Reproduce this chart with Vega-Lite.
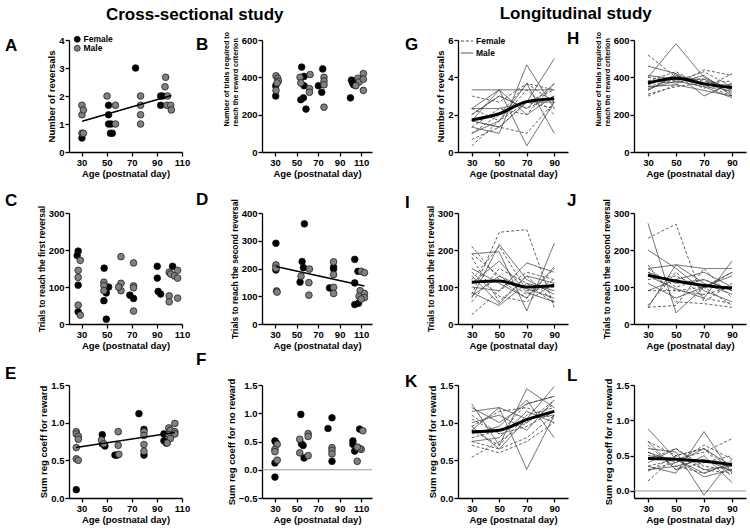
{
"$schema":"https://vega.github.io/schema/vega-lite/v6.json",
"padding":5,
"config":{"font":"Liberation Sans","view":{"stroke":null},
"axis":{"domainColor":"#000","domainWidth":1.3,"tickColor":"#000","tickWidth":1.3,"tickSize":4,"labelFontSize":9.5,"labelFontWeight":"bold","labelColor":"#000","labelPadding":1,"titleFontSize":9.5,"titleFontWeight":"bold","titleColor":"#000","titlePadding":2,"grid":false,"labelOverlap":false,"labelFlush":false},
"title":{"fontSize":17,"fontWeight":"bold","color":"#000","anchor":"start","frame":"group","offset":0,"baseline":"alphabetic"}},
"datasets":{
"cs":[
{"p":"A","s":"F","age":30.3,"v":0.5},{"p":"A","s":"F","age":51.5,"v":1.67},{"p":"A","s":"F","age":51.5,"v":1.33},{"p":"A","s":"F","age":51.5,"v":1.0},{"p":"A","s":"F","age":53.5,"v":1.0},{"p":"A","s":"F","age":53,"v":0.67},{"p":"A","s":"F","age":54.5,"v":0.67},{"p":"A","s":"F","age":73,"v":3.0},{"p":"A","s":"F","age":93,"v":2.0},{"p":"A","s":"F","age":94.5,"v":2.0},{"p":"A","s":"F","age":93,"v":1.67},
{"p":"A","s":"M","age":30.3,"v":1.67},{"p":"A","s":"M","age":30.3,"v":1.33},{"p":"A","s":"M","age":31.5,"v":1.5},{"p":"A","s":"M","age":30.3,"v":0.67},{"p":"A","s":"M","age":31.5,"v":0.67},{"p":"A","s":"M","age":50.3,"v":2.0},{"p":"A","s":"M","age":57,"v":1.67},{"p":"A","s":"M","age":57,"v":1.0},{"p":"A","s":"M","age":77,"v":2.0},{"p":"A","s":"M","age":77,"v":1.67},{"p":"A","s":"M","age":77,"v":1.33},{"p":"A","s":"M","age":77,"v":1.0},{"p":"A","s":"M","age":97,"v":2.67},{"p":"A","s":"M","age":96.5,"v":2.33},{"p":"A","s":"M","age":98.5,"v":2.0},{"p":"A","s":"M","age":98,"v":1.67},{"p":"A","s":"M","age":101,"v":1.67},{"p":"A","s":"M","age":101.5,"v":1.5},
{"p":"B","s":"F","age":30.7,"v":355},{"p":"B","s":"F","age":30.7,"v":300},{"p":"B","s":"F","age":54.8,"v":455},{"p":"B","s":"F","age":57,"v":405},{"p":"B","s":"F","age":57,"v":355},{"p":"B","s":"F","age":54,"v":280},{"p":"B","s":"F","age":56.4,"v":290},{"p":"B","s":"F","age":58.8,"v":230},{"p":"B","s":"F","age":74.3,"v":445},{"p":"B","s":"F","age":70.3,"v":355},{"p":"B","s":"F","age":73.4,"v":320},{"p":"B","s":"F","age":101,"v":385},{"p":"B","s":"F","age":102,"v":370},{"p":"B","s":"F","age":104,"v":380},{"p":"B","s":"F","age":103,"v":360},{"p":"B","s":"F","age":100,"v":290},
{"p":"B","s":"M","age":31,"v":408},{"p":"B","s":"M","age":32.6,"v":395},{"p":"B","s":"M","age":33.1,"v":380},{"p":"B","s":"M","age":32,"v":370},{"p":"B","s":"M","age":31,"v":330},{"p":"B","s":"M","age":53.3,"v":400},{"p":"B","s":"M","age":54,"v":370},{"p":"B","s":"M","age":62.6,"v":415},{"p":"B","s":"M","age":62,"v":340},{"p":"B","s":"M","age":62,"v":320},{"p":"B","s":"M","age":75.5,"v":400},{"p":"B","s":"M","age":75.5,"v":380},{"p":"B","s":"M","age":75.5,"v":360},{"p":"B","s":"M","age":75.5,"v":240},{"p":"B","s":"M","age":107,"v":395},{"p":"B","s":"M","age":108,"v":375},{"p":"B","s":"M","age":105,"v":355},{"p":"B","s":"M","age":112,"v":420},{"p":"B","s":"M","age":112,"v":390},{"p":"B","s":"M","age":112,"v":330},
{"p":"C","s":"F","age":27.3,"v":197},{"p":"C","s":"F","age":26.5,"v":185},{"p":"C","s":"F","age":27.3,"v":105},{"p":"C","s":"F","age":27.3,"v":33},{"p":"C","s":"F","age":48,"v":151},{"p":"C","s":"F","age":51.6,"v":100},{"p":"C","s":"F","age":49.7,"v":84},{"p":"C","s":"F","age":47.8,"v":63},{"p":"C","s":"F","age":49.7,"v":13},{"p":"C","s":"F","age":68.5,"v":78},{"p":"C","s":"F","age":71.4,"v":69},{"p":"C","s":"F","age":90.3,"v":156},{"p":"C","s":"F","age":102.5,"v":156},{"p":"C","s":"F","age":90.3,"v":124},{"p":"C","s":"F","age":91,"v":88},{"p":"C","s":"F","age":93,"v":81},
{"p":"C","s":"M","age":29,"v":172},{"p":"C","s":"M","age":27.3,"v":145},{"p":"C","s":"M","age":27.3,"v":126},{"p":"C","s":"M","age":27.3,"v":51},{"p":"C","s":"M","age":29,"v":24},{"p":"C","s":"M","age":47.8,"v":113},{"p":"C","s":"M","age":47.8,"v":104},{"p":"C","s":"M","age":47.8,"v":90},{"p":"C","s":"M","age":61.4,"v":182},{"p":"C","s":"M","age":61.4,"v":110},{"p":"C","s":"M","age":61.4,"v":90},{"p":"C","s":"M","age":59.5,"v":100},{"p":"C","s":"M","age":71.4,"v":165},{"p":"C","s":"M","age":71.4,"v":103},{"p":"C","s":"M","age":71.4,"v":98},{"p":"C","s":"M","age":71.4,"v":35},{"p":"C","s":"M","age":99.8,"v":140},{"p":"C","s":"M","age":101,"v":135},{"p":"C","s":"M","age":106.5,"v":145},{"p":"C","s":"M","age":104,"v":130},{"p":"C","s":"M","age":106.5,"v":124},{"p":"C","s":"M","age":99.8,"v":76},{"p":"C","s":"M","age":99.8,"v":60},{"p":"C","s":"M","age":106.5,"v":70},
{"p":"D","s":"F","age":30.9,"v":291},{"p":"D","s":"F","age":30.9,"v":195},{"p":"D","s":"F","age":57.3,"v":361},{"p":"D","s":"F","age":55.2,"v":225},{"p":"D","s":"F","age":56.4,"v":203},{"p":"D","s":"F","age":53.3,"v":151},{"p":"D","s":"F","age":80.6,"v":130},{"p":"D","s":"F","age":84.4,"v":205},{"p":"D","s":"F","age":84.4,"v":198},{"p":"D","s":"F","age":104,"v":233},{"p":"D","s":"F","age":107,"v":190},{"p":"D","s":"F","age":104,"v":148},{"p":"D","s":"F","age":107.5,"v":75},{"p":"D","s":"F","age":104,"v":70},
{"p":"D","s":"M","age":30.9,"v":213},{"p":"D","s":"M","age":30.9,"v":201},{"p":"D","s":"M","age":31.5,"v":119},{"p":"D","s":"M","age":32,"v":115},{"p":"D","s":"M","age":54.2,"v":172},{"p":"D","s":"M","age":62,"v":198},{"p":"D","s":"M","age":61.5,"v":149},{"p":"D","s":"M","age":61.5,"v":104},{"p":"D","s":"M","age":84.4,"v":224},{"p":"D","s":"M","age":84.4,"v":178},{"p":"D","s":"M","age":84.4,"v":132},{"p":"D","s":"M","age":84.4,"v":110},{"p":"D","s":"M","age":110,"v":190},{"p":"D","s":"M","age":113,"v":185},{"p":"D","s":"M","age":109,"v":120},{"p":"D","s":"M","age":113,"v":110},{"p":"D","s":"M","age":108,"v":100},{"p":"D","s":"M","age":113,"v":95},{"p":"D","s":"M","age":110,"v":90},
{"p":"E","s":"F","age":25.8,"v":0.11},{"p":"E","s":"F","age":46.5,"v":0.84},{"p":"E","s":"F","age":46.5,"v":0.72},{"p":"E","s":"F","age":48.6,"v":0.69},{"p":"E","s":"F","age":56.6,"v":0.57},{"p":"E","s":"F","age":58.4,"v":0.57},{"p":"E","s":"F","age":75.7,"v":1.12},{"p":"E","s":"F","age":79.7,"v":0.91},{"p":"E","s":"F","age":79.7,"v":0.57},{"p":"E","s":"F","age":95.6,"v":0.85},{"p":"E","s":"F","age":95.6,"v":0.76},{"p":"E","s":"F","age":97.4,"v":0.73},
{"p":"E","s":"M","age":25.8,"v":0.88},{"p":"E","s":"M","age":25.8,"v":0.85},{"p":"E","s":"M","age":27.4,"v":0.82},{"p":"E","s":"M","age":27.4,"v":0.78},{"p":"E","s":"M","age":25.8,"v":0.67},{"p":"E","s":"M","age":25.8,"v":0.52},{"p":"E","s":"M","age":27.4,"v":0.5},{"p":"E","s":"M","age":45.9,"v":0.77},{"p":"E","s":"M","age":47.8,"v":0.72},{"p":"E","s":"M","age":59.2,"v":0.88},{"p":"E","s":"M","age":59.2,"v":0.7},{"p":"E","s":"M","age":59.7,"v":0.58},{"p":"E","s":"M","age":79.7,"v":0.88},{"p":"E","s":"M","age":79.7,"v":0.83},{"p":"E","s":"M","age":79.7,"v":0.71},{"p":"E","s":"M","age":79.7,"v":0.62},{"p":"E","s":"M","age":99.5,"v":0.93},{"p":"E","s":"M","age":100.8,"v":0.9},{"p":"E","s":"M","age":99.5,"v":0.84},{"p":"E","s":"M","age":104.3,"v":0.99},{"p":"E","s":"M","age":104.3,"v":0.88},{"p":"E","s":"M","age":104.3,"v":0.85},{"p":"E","s":"M","age":100.8,"v":0.79},{"p":"E","s":"M","age":98.2,"v":0.73},
{"p":"F","s":"F","age":30,"v":0.51},{"p":"F","s":"F","age":31,"v":0.48},{"p":"F","s":"F","age":30,"v":0.12},{"p":"F","s":"F","age":30,"v":-0.13},{"p":"F","s":"F","age":54,"v":0.98},{"p":"F","s":"F","age":54.6,"v":0.46},{"p":"F","s":"F","age":56.1,"v":0.43},{"p":"F","s":"F","age":57,"v":0.21},{"p":"F","s":"F","age":79.2,"v":0.73},{"p":"F","s":"F","age":82.9,"v":0.92},{"p":"F","s":"F","age":82.9,"v":0.15},{"p":"F","s":"F","age":102.3,"v":0.51},{"p":"F","s":"F","age":102.3,"v":0.45},{"p":"F","s":"F","age":103.9,"v":0.33},{"p":"F","s":"F","age":108.5,"v":0.72},
{"p":"F","s":"M","age":32.1,"v":0.45},{"p":"F","s":"M","age":30,"v":0.36},{"p":"F","s":"M","age":30,"v":0.32},{"p":"F","s":"M","age":32.1,"v":0.17},{"p":"F","s":"M","age":53,"v":0.54},{"p":"F","s":"M","age":53,"v":0.3},{"p":"F","s":"M","age":60.8,"v":0.64},{"p":"F","s":"M","age":60.8,"v":0.59},{"p":"F","s":"M","age":60.8,"v":0.25},{"p":"F","s":"M","age":82.9,"v":0.39},{"p":"F","s":"M","age":82.9,"v":0.34},{"p":"F","s":"M","age":82.9,"v":0.28},{"p":"F","s":"M","age":111.5,"v":0.69},{"p":"F","s":"M","age":110,"v":0.36},{"p":"F","s":"M","age":106.3,"v":0.15},{"p":"F","s":"M","age":108.5,"v":0.38},{"p":"F","s":"M","age":106.3,"v":0.4}
],
"fit":[
{"p":"A","age":30.5,"v":1.1},{"p":"A","age":101.5,"v":2.02},
{"p":"D","age":30.9,"v":207},{"p":"D","age":113,"v":137},
{"p":"E","age":25.5,"v":0.67},{"p":"E","age":104.3,"v":0.87}
],
"lm":[
{"p":"G","age":30,"v":1.72},{"p":"G","age":50,"v":2.05},{"p":"G","age":70,"v":2.7},{"p":"G","age":90,"v":2.85},
{"p":"H","age":30,"v":370},{"p":"H","age":50,"v":395},{"p":"H","age":70,"v":365},{"p":"H","age":90,"v":345},
{"p":"I","age":30,"v":113},{"p":"I","age":50,"v":116},{"p":"I","age":70,"v":100},{"p":"I","age":90,"v":104},
{"p":"J","age":30,"v":132},{"p":"J","age":50,"v":116},{"p":"J","age":70,"v":104},{"p":"J","age":90,"v":97},
{"p":"K","age":30,"v":0.88},{"p":"K","age":50,"v":0.9},{"p":"K","age":70,"v":1.04},{"p":"K","age":90,"v":1.15},
{"p":"L","age":30,"v":0.46},{"p":"L","age":50,"v":0.45},{"p":"L","age":70,"v":0.42},{"p":"L","age":90,"v":0.37}
],
"lg":[
{"p":"G","id":"f1","s":"F","age":30,"v":0.33},{"p":"G","id":"f1","s":"F","age":50,"v":1.67},{"p":"G","id":"f1","s":"F","age":70,"v":2.67},{"p":"G","id":"f1","s":"F","age":90,"v":3.33},
{"p":"G","id":"f2","s":"F","age":30,"v":3.0},{"p":"G","id":"f2","s":"F","age":50,"v":2.67},{"p":"G","id":"f2","s":"F","age":70,"v":3.67},{"p":"G","id":"f2","s":"F","age":90,"v":3.33},
{"p":"G","id":"f3","s":"F","age":30,"v":1.0},{"p":"G","id":"f3","s":"F","age":50,"v":2.0},{"p":"G","id":"f3","s":"F","age":70,"v":3.67},{"p":"G","id":"f3","s":"F","age":90,"v":2.67},
{"p":"G","id":"f4","s":"F","age":30,"v":2.33},{"p":"G","id":"f4","s":"F","age":50,"v":1.67},{"p":"G","id":"f4","s":"F","age":70,"v":3.33},{"p":"G","id":"f4","s":"F","age":90,"v":2.0},
{"p":"G","id":"f5","s":"F","age":30,"v":1.33},{"p":"G","id":"f5","s":"F","age":50,"v":2.33},{"p":"G","id":"f5","s":"F","age":70,"v":2.0},{"p":"G","id":"f5","s":"F","age":90,"v":3.67},
{"p":"G","id":"f6","s":"F","age":30,"v":0.67},{"p":"G","id":"f6","s":"F","age":50,"v":1.33},{"p":"G","id":"f6","s":"F","age":70,"v":2.67},{"p":"G","id":"f6","s":"F","age":90,"v":2.33},
{"p":"G","id":"f7","s":"F","age":30,"v":2.0},{"p":"G","id":"f7","s":"F","age":50,"v":3.0},{"p":"G","id":"f7","s":"F","age":70,"v":2.33},{"p":"G","id":"f7","s":"F","age":90,"v":3.0},
{"p":"G","id":"f8","s":"F","age":30,"v":1.67},{"p":"G","id":"f8","s":"F","age":50,"v":1.33},{"p":"G","id":"f8","s":"F","age":70,"v":1.0},{"p":"G","id":"f8","s":"F","age":90,"v":2.67},
{"p":"G","id":"m1","s":"M","age":30,"v":3.33},{"p":"G","id":"m1","s":"M","age":50,"v":3.33},{"p":"G","id":"m1","s":"M","age":70,"v":3.33},{"p":"G","id":"m1","s":"M","age":90,"v":3.33},
{"p":"G","id":"m2","s":"M","age":30,"v":1.33},{"p":"G","id":"m2","s":"M","age":50,"v":1.0},{"p":"G","id":"m2","s":"M","age":70,"v":4.67},{"p":"G","id":"m2","s":"M","age":90,"v":2.33},
{"p":"G","id":"m3","s":"M","age":30,"v":1.67},{"p":"G","id":"m3","s":"M","age":50,"v":3.33},{"p":"G","id":"m3","s":"M","age":70,"v":0.33},{"p":"G","id":"m3","s":"M","age":90,"v":2.67},
{"p":"G","id":"m4","s":"M","age":30,"v":2.33},{"p":"G","id":"m4","s":"M","age":50,"v":2.33},{"p":"G","id":"m4","s":"M","age":70,"v":2.67},{"p":"G","id":"m4","s":"M","age":90,"v":5.0},
{"p":"G","id":"m5","s":"M","age":30,"v":1.0},{"p":"G","id":"m5","s":"M","age":50,"v":1.67},{"p":"G","id":"m5","s":"M","age":70,"v":3.67},{"p":"G","id":"m5","s":"M","age":90,"v":1.0},
{"p":"G","id":"m6","s":"M","age":30,"v":2.0},{"p":"G","id":"m6","s":"M","age":50,"v":3.0},{"p":"G","id":"m6","s":"M","age":70,"v":2.33},{"p":"G","id":"m6","s":"M","age":90,"v":3.67},
{"p":"G","id":"m7","s":"M","age":30,"v":1.67},{"p":"G","id":"m7","s":"M","age":50,"v":1.33},{"p":"G","id":"m7","s":"M","age":70,"v":2.67},{"p":"G","id":"m7","s":"M","age":90,"v":2.67},
{"p":"G","id":"m8","s":"M","age":30,"v":2.33},{"p":"G","id":"m8","s":"M","age":50,"v":3.33},{"p":"G","id":"m8","s":"M","age":70,"v":2.0},{"p":"G","id":"m8","s":"M","age":90,"v":3.0},
{"p":"H","id":"f1","s":"F","age":30,"v":520},{"p":"H","id":"f1","s":"F","age":50,"v":400},{"p":"H","id":"f1","s":"F","age":70,"v":380},{"p":"H","id":"f1","s":"F","age":90,"v":340},
{"p":"H","id":"f2","s":"F","age":30,"v":300},{"p":"H","id":"f2","s":"F","age":50,"v":360},{"p":"H","id":"f2","s":"F","age":70,"v":440},{"p":"H","id":"f2","s":"F","age":90,"v":410},
{"p":"H","id":"f3","s":"F","age":30,"v":330},{"p":"H","id":"f3","s":"F","age":50,"v":420},{"p":"H","id":"f3","s":"F","age":70,"v":360},{"p":"H","id":"f3","s":"F","age":90,"v":300},
{"p":"H","id":"f4","s":"F","age":30,"v":400},{"p":"H","id":"f4","s":"F","age":50,"v":380},{"p":"H","id":"f4","s":"F","age":70,"v":430},{"p":"H","id":"f4","s":"F","age":90,"v":350},
{"p":"H","id":"f5","s":"F","age":30,"v":360},{"p":"H","id":"f5","s":"F","age":50,"v":410},{"p":"H","id":"f5","s":"F","age":70,"v":340},{"p":"H","id":"f5","s":"F","age":90,"v":420},
{"p":"H","id":"f6","s":"F","age":30,"v":350},{"p":"H","id":"f6","s":"F","age":50,"v":390},{"p":"H","id":"f6","s":"F","age":70,"v":390},{"p":"H","id":"f6","s":"F","age":90,"v":310},
{"p":"H","id":"f7","s":"F","age":30,"v":310},{"p":"H","id":"f7","s":"F","age":50,"v":350},{"p":"H","id":"f7","s":"F","age":70,"v":370},{"p":"H","id":"f7","s":"F","age":90,"v":380},
{"p":"H","id":"f8","s":"F","age":30,"v":380},{"p":"H","id":"f8","s":"F","age":50,"v":430},{"p":"H","id":"f8","s":"F","age":70,"v":350},{"p":"H","id":"f8","s":"F","age":90,"v":330},
{"p":"H","id":"m1","s":"M","age":30,"v":400},{"p":"H","id":"m1","s":"M","age":50,"v":580},{"p":"H","id":"m1","s":"M","age":70,"v":400},{"p":"H","id":"m1","s":"M","age":90,"v":330},
{"p":"H","id":"m2","s":"M","age":30,"v":460},{"p":"H","id":"m2","s":"M","age":50,"v":420},{"p":"H","id":"m2","s":"M","age":70,"v":300},{"p":"H","id":"m2","s":"M","age":90,"v":370},
{"p":"H","id":"m3","s":"M","age":30,"v":340},{"p":"H","id":"m3","s":"M","age":50,"v":380},{"p":"H","id":"m3","s":"M","age":70,"v":350},{"p":"H","id":"m3","s":"M","age":90,"v":290},
{"p":"H","id":"m4","s":"M","age":30,"v":370},{"p":"H","id":"m4","s":"M","age":50,"v":400},{"p":"H","id":"m4","s":"M","age":70,"v":360},{"p":"H","id":"m4","s":"M","age":90,"v":360},
{"p":"H","id":"m5","s":"M","age":30,"v":350},{"p":"H","id":"m5","s":"M","age":50,"v":360},{"p":"H","id":"m5","s":"M","age":70,"v":330},{"p":"H","id":"m5","s":"M","age":90,"v":300},
{"p":"H","id":"m6","s":"M","age":30,"v":410},{"p":"H","id":"m6","s":"M","age":50,"v":390},{"p":"H","id":"m6","s":"M","age":70,"v":390},{"p":"H","id":"m6","s":"M","age":90,"v":340},
{"p":"H","id":"m7","s":"M","age":30,"v":330},{"p":"H","id":"m7","s":"M","age":50,"v":410},{"p":"H","id":"m7","s":"M","age":70,"v":370},{"p":"H","id":"m7","s":"M","age":90,"v":320},
{"p":"H","id":"m8","s":"M","age":30,"v":380},{"p":"H","id":"m8","s":"M","age":50,"v":370},{"p":"H","id":"m8","s":"M","age":70,"v":410},{"p":"H","id":"m8","s":"M","age":90,"v":300},
{"p":"I","id":"f1","s":"F","age":30,"v":25},{"p":"I","id":"f1","s":"F","age":50,"v":90},{"p":"I","id":"f1","s":"F","age":70,"v":140},{"p":"I","id":"f1","s":"F","age":90,"v":120},
{"p":"I","id":"f2","s":"F","age":30,"v":210},{"p":"I","id":"f2","s":"F","age":50,"v":120},{"p":"I","id":"f2","s":"F","age":70,"v":70},{"p":"I","id":"f2","s":"F","age":90,"v":150},
{"p":"I","id":"f3","s":"F","age":30,"v":80},{"p":"I","id":"f3","s":"F","age":50,"v":248},{"p":"I","id":"f3","s":"F","age":70,"v":255},{"p":"I","id":"f3","s":"F","age":90,"v":45},
{"p":"I","id":"f4","s":"F","age":30,"v":180},{"p":"I","id":"f4","s":"F","age":50,"v":60},{"p":"I","id":"f4","s":"F","age":70,"v":130},{"p":"I","id":"f4","s":"F","age":90,"v":60},
{"p":"I","id":"f5","s":"F","age":30,"v":120},{"p":"I","id":"f5","s":"F","age":50,"v":210},{"p":"I","id":"f5","s":"F","age":70,"v":90},{"p":"I","id":"f5","s":"F","age":90,"v":100},
{"p":"I","id":"f6","s":"F","age":30,"v":60},{"p":"I","id":"f6","s":"F","age":50,"v":150},{"p":"I","id":"f6","s":"F","age":70,"v":110},{"p":"I","id":"f6","s":"F","age":90,"v":55},
{"p":"I","id":"f7","s":"F","age":30,"v":140},{"p":"I","id":"f7","s":"F","age":50,"v":75},{"p":"I","id":"f7","s":"F","age":70,"v":60},{"p":"I","id":"f7","s":"F","age":90,"v":110},
{"p":"I","id":"f8","s":"F","age":30,"v":190},{"p":"I","id":"f8","s":"F","age":50,"v":130},{"p":"I","id":"f8","s":"F","age":70,"v":80},{"p":"I","id":"f8","s":"F","age":90,"v":120},
{"p":"I","id":"m1","s":"M","age":30,"v":190},{"p":"I","id":"m1","s":"M","age":50,"v":195},{"p":"I","id":"m1","s":"M","age":70,"v":35},{"p":"I","id":"m1","s":"M","age":90,"v":218},
{"p":"I","id":"m2","s":"M","age":30,"v":70},{"p":"I","id":"m2","s":"M","age":50,"v":215},{"p":"I","id":"m2","s":"M","age":70,"v":120},{"p":"I","id":"m2","s":"M","age":90,"v":80},
{"p":"I","id":"m3","s":"M","age":30,"v":100},{"p":"I","id":"m3","s":"M","age":50,"v":90},{"p":"I","id":"m3","s":"M","age":70,"v":165},{"p":"I","id":"m3","s":"M","age":90,"v":140},
{"p":"I","id":"m4","s":"M","age":30,"v":85},{"p":"I","id":"m4","s":"M","age":50,"v":50},{"p":"I","id":"m4","s":"M","age":70,"v":110},{"p":"I","id":"m4","s":"M","age":90,"v":90},
{"p":"I","id":"m5","s":"M","age":30,"v":150},{"p":"I","id":"m5","s":"M","age":50,"v":110},{"p":"I","id":"m5","s":"M","age":70,"v":70},{"p":"I","id":"m5","s":"M","age":90,"v":155},
{"p":"I","id":"m6","s":"M","age":30,"v":75},{"p":"I","id":"m6","s":"M","age":50,"v":130},{"p":"I","id":"m6","s":"M","age":70,"v":95},{"p":"I","id":"m6","s":"M","age":90,"v":70},
{"p":"I","id":"m7","s":"M","age":30,"v":130},{"p":"I","id":"m7","s":"M","age":50,"v":55},{"p":"I","id":"m7","s":"M","age":70,"v":130},{"p":"I","id":"m7","s":"M","age":90,"v":110},
{"p":"I","id":"m8","s":"M","age":30,"v":110},{"p":"I","id":"m8","s":"M","age":50,"v":170},{"p":"I","id":"m8","s":"M","age":70,"v":85},{"p":"I","id":"m8","s":"M","age":90,"v":60},
{"p":"J","id":"f1","s":"F","age":30,"v":232},{"p":"J","id":"f1","s":"F","age":50,"v":270},{"p":"J","id":"f1","s":"F","age":70,"v":60},{"p":"J","id":"f1","s":"F","age":90,"v":110},
{"p":"J","id":"f2","s":"F","age":30,"v":90},{"p":"J","id":"f2","s":"F","age":50,"v":90},{"p":"J","id":"f2","s":"F","age":70,"v":100},{"p":"J","id":"f2","s":"F","age":90,"v":50},
{"p":"J","id":"f3","s":"F","age":30,"v":50},{"p":"J","id":"f3","s":"F","age":50,"v":140},{"p":"J","id":"f3","s":"F","age":70,"v":70},{"p":"J","id":"f3","s":"F","age":90,"v":55},
{"p":"J","id":"f4","s":"F","age":30,"v":150},{"p":"J","id":"f4","s":"F","age":50,"v":100},{"p":"J","id":"f4","s":"F","age":70,"v":120},{"p":"J","id":"f4","s":"F","age":90,"v":90},
{"p":"J","id":"f5","s":"F","age":30,"v":160},{"p":"J","id":"f5","s":"F","age":50,"v":60},{"p":"J","id":"f5","s":"F","age":70,"v":55},{"p":"J","id":"f5","s":"F","age":90,"v":45},
{"p":"J","id":"f6","s":"F","age":30,"v":120},{"p":"J","id":"f6","s":"F","age":50,"v":130},{"p":"J","id":"f6","s":"F","age":70,"v":95},{"p":"J","id":"f6","s":"F","age":90,"v":140},
{"p":"J","id":"f7","s":"F","age":30,"v":45},{"p":"J","id":"f7","s":"F","age":50,"v":50},{"p":"J","id":"f7","s":"F","age":70,"v":150},{"p":"J","id":"f7","s":"F","age":90,"v":70},
{"p":"J","id":"f8","s":"F","age":30,"v":140},{"p":"J","id":"f8","s":"F","age":50,"v":90},{"p":"J","id":"f8","s":"F","age":70,"v":80},{"p":"J","id":"f8","s":"F","age":90,"v":100},
{"p":"J","id":"m1","s":"M","age":30,"v":272},{"p":"J","id":"m1","s":"M","age":50,"v":30},{"p":"J","id":"m1","s":"M","age":70,"v":100},{"p":"J","id":"m1","s":"M","age":90,"v":130},
{"p":"J","id":"m2","s":"M","age":30,"v":200},{"p":"J","id":"m2","s":"M","age":50,"v":150},{"p":"J","id":"m2","s":"M","age":70,"v":90},{"p":"J","id":"m2","s":"M","age":90,"v":60},
{"p":"J","id":"m3","s":"M","age":30,"v":150},{"p":"J","id":"m3","s":"M","age":50,"v":160},{"p":"J","id":"m3","s":"M","age":70,"v":150},{"p":"J","id":"m3","s":"M","age":90,"v":150},
{"p":"J","id":"m4","s":"M","age":30,"v":90},{"p":"J","id":"m4","s":"M","age":50,"v":120},{"p":"J","id":"m4","s":"M","age":70,"v":140},{"p":"J","id":"m4","s":"M","age":90,"v":100},
{"p":"J","id":"m5","s":"M","age":30,"v":130},{"p":"J","id":"m5","s":"M","age":50,"v":95},{"p":"J","id":"m5","s":"M","age":70,"v":70},{"p":"J","id":"m5","s":"M","age":90,"v":170},
{"p":"J","id":"m6","s":"M","age":30,"v":45},{"p":"J","id":"m6","s":"M","age":50,"v":160},{"p":"J","id":"m6","s":"M","age":70,"v":110},{"p":"J","id":"m6","s":"M","age":90,"v":80},
{"p":"J","id":"m7","s":"M","age":30,"v":140},{"p":"J","id":"m7","s":"M","age":50,"v":110},{"p":"J","id":"m7","s":"M","age":70,"v":120},{"p":"J","id":"m7","s":"M","age":90,"v":90},
{"p":"J","id":"m8","s":"M","age":30,"v":110},{"p":"J","id":"m8","s":"M","age":50,"v":70},{"p":"J","id":"m8","s":"M","age":70,"v":100},{"p":"J","id":"m8","s":"M","age":90,"v":140},
{"p":"K","id":"f1","s":"F","age":30,"v":0.54},{"p":"K","id":"f1","s":"F","age":50,"v":0.75},{"p":"K","id":"f1","s":"F","age":70,"v":1.0},{"p":"K","id":"f1","s":"F","age":90,"v":1.3},
{"p":"K","id":"f2","s":"F","age":30,"v":0.7},{"p":"K","id":"f2","s":"F","age":50,"v":0.6},{"p":"K","id":"f2","s":"F","age":70,"v":0.75},{"p":"K","id":"f2","s":"F","age":90,"v":1.0},
{"p":"K","id":"f3","s":"F","age":30,"v":0.9},{"p":"K","id":"f3","s":"F","age":50,"v":0.7},{"p":"K","id":"f3","s":"F","age":70,"v":1.1},{"p":"K","id":"f3","s":"F","age":90,"v":1.2},
{"p":"K","id":"f4","s":"F","age":30,"v":1.05},{"p":"K","id":"f4","s":"F","age":50,"v":0.85},{"p":"K","id":"f4","s":"F","age":70,"v":1.25},{"p":"K","id":"f4","s":"F","age":90,"v":1.35},
{"p":"K","id":"f5","s":"F","age":30,"v":0.75},{"p":"K","id":"f5","s":"F","age":50,"v":0.65},{"p":"K","id":"f5","s":"F","age":70,"v":0.8},{"p":"K","id":"f5","s":"F","age":90,"v":1.1},
{"p":"K","id":"f6","s":"F","age":30,"v":0.95},{"p":"K","id":"f6","s":"F","age":50,"v":1.15},{"p":"K","id":"f6","s":"F","age":70,"v":1.2},{"p":"K","id":"f6","s":"F","age":90,"v":1.05},
{"p":"K","id":"f7","s":"F","age":30,"v":0.8},{"p":"K","id":"f7","s":"F","age":50,"v":0.9},{"p":"K","id":"f7","s":"F","age":70,"v":1.0},{"p":"K","id":"f7","s":"F","age":90,"v":1.25},
{"p":"K","id":"f8","s":"F","age":30,"v":1.1},{"p":"K","id":"f8","s":"F","age":50,"v":0.85},{"p":"K","id":"f8","s":"F","age":70,"v":0.95},{"p":"K","id":"f8","s":"F","age":90,"v":1.15},
{"p":"K","id":"m1","s":"M","age":30,"v":1.25},{"p":"K","id":"m1","s":"M","age":50,"v":0.7},{"p":"K","id":"m1","s":"M","age":70,"v":1.45},{"p":"K","id":"m1","s":"M","age":90,"v":1.2},
{"p":"K","id":"m2","s":"M","age":30,"v":0.9},{"p":"K","id":"m2","s":"M","age":50,"v":1.2},{"p":"K","id":"m2","s":"M","age":70,"v":0.38},{"p":"K","id":"m2","s":"M","age":90,"v":1.1},
{"p":"K","id":"m3","s":"M","age":30,"v":1.15},{"p":"K","id":"m3","s":"M","age":50,"v":1.2},{"p":"K","id":"m3","s":"M","age":70,"v":1.05},{"p":"K","id":"m3","s":"M","age":90,"v":1.48},
{"p":"K","id":"m4","s":"M","age":30,"v":0.85},{"p":"K","id":"m4","s":"M","age":50,"v":0.95},{"p":"K","id":"m4","s":"M","age":70,"v":1.3},{"p":"K","id":"m4","s":"M","age":90,"v":0.8},
{"p":"K","id":"m5","s":"M","age":30,"v":1.0},{"p":"K","id":"m5","s":"M","age":50,"v":1.1},{"p":"K","id":"m5","s":"M","age":70,"v":0.9},{"p":"K","id":"m5","s":"M","age":90,"v":1.3},
{"p":"K","id":"m6","s":"M","age":30,"v":0.75},{"p":"K","id":"m6","s":"M","age":50,"v":0.8},{"p":"K","id":"m6","s":"M","age":70,"v":1.15},{"p":"K","id":"m6","s":"M","age":90,"v":1.0},
{"p":"K","id":"m7","s":"M","age":30,"v":1.2},{"p":"K","id":"m7","s":"M","age":50,"v":1.0},{"p":"K","id":"m7","s":"M","age":70,"v":1.25},{"p":"K","id":"m7","s":"M","age":90,"v":1.35},
{"p":"K","id":"m8","s":"M","age":30,"v":0.95},{"p":"K","id":"m8","s":"M","age":50,"v":0.65},{"p":"K","id":"m8","s":"M","age":70,"v":1.05},{"p":"K","id":"m8","s":"M","age":90,"v":1.1},
{"p":"L","id":"f1","s":"F","age":30,"v":0.14},{"p":"L","id":"f1","s":"F","age":50,"v":0.5},{"p":"L","id":"f1","s":"F","age":70,"v":0.6},{"p":"L","id":"f1","s":"F","age":90,"v":0.3},
{"p":"L","id":"f2","s":"F","age":30,"v":0.35},{"p":"L","id":"f2","s":"F","age":50,"v":0.45},{"p":"L","id":"f2","s":"F","age":70,"v":0.55},{"p":"L","id":"f2","s":"F","age":90,"v":0.74},
{"p":"L","id":"f3","s":"F","age":30,"v":0.7},{"p":"L","id":"f3","s":"F","age":50,"v":0.5},{"p":"L","id":"f3","s":"F","age":70,"v":0.3},{"p":"L","id":"f3","s":"F","age":90,"v":0.25},
{"p":"L","id":"f4","s":"F","age":30,"v":0.3},{"p":"L","id":"f4","s":"F","age":50,"v":0.4},{"p":"L","id":"f4","s":"F","age":70,"v":0.65},{"p":"L","id":"f4","s":"F","age":90,"v":0.45},
{"p":"L","id":"f5","s":"F","age":30,"v":0.55},{"p":"L","id":"f5","s":"F","age":50,"v":0.35},{"p":"L","id":"f5","s":"F","age":70,"v":0.25},{"p":"L","id":"f5","s":"F","age":90,"v":0.4},
{"p":"L","id":"f6","s":"F","age":30,"v":0.45},{"p":"L","id":"f6","s":"F","age":50,"v":0.6},{"p":"L","id":"f6","s":"F","age":70,"v":0.35},{"p":"L","id":"f6","s":"F","age":90,"v":0.3},
{"p":"L","id":"f7","s":"F","age":30,"v":0.28},{"p":"L","id":"f7","s":"F","age":50,"v":0.5},{"p":"L","id":"f7","s":"F","age":70,"v":0.6},{"p":"L","id":"f7","s":"F","age":90,"v":0.2},
{"p":"L","id":"f8","s":"F","age":30,"v":0.65},{"p":"L","id":"f8","s":"F","age":50,"v":0.3},{"p":"L","id":"f8","s":"F","age":70,"v":0.4},{"p":"L","id":"f8","s":"F","age":90,"v":0.5},
{"p":"L","id":"m1","s":"M","age":30,"v":0.88},{"p":"L","id":"m1","s":"M","age":50,"v":0.45},{"p":"L","id":"m1","s":"M","age":70,"v":0.2},{"p":"L","id":"m1","s":"M","age":90,"v":0.3},
{"p":"L","id":"m2","s":"M","age":30,"v":0.35},{"p":"L","id":"m2","s":"M","age":50,"v":0.25},{"p":"L","id":"m2","s":"M","age":70,"v":0.84},{"p":"L","id":"m2","s":"M","age":90,"v":0.25},
{"p":"L","id":"m3","s":"M","age":30,"v":0.6},{"p":"L","id":"m3","s":"M","age":50,"v":0.55},{"p":"L","id":"m3","s":"M","age":70,"v":-0.06},{"p":"L","id":"m3","s":"M","age":90,"v":0.45},
{"p":"L","id":"m4","s":"M","age":30,"v":0.7},{"p":"L","id":"m4","s":"M","age":50,"v":0.3},{"p":"L","id":"m4","s":"M","age":70,"v":0.5},{"p":"L","id":"m4","s":"M","age":90,"v":0.12},
{"p":"L","id":"m5","s":"M","age":30,"v":0.4},{"p":"L","id":"m5","s":"M","age":50,"v":0.6},{"p":"L","id":"m5","s":"M","age":70,"v":0.3},{"p":"L","id":"m5","s":"M","age":90,"v":0.35},
{"p":"L","id":"m6","s":"M","age":30,"v":0.5},{"p":"L","id":"m6","s":"M","age":50,"v":0.45},{"p":"L","id":"m6","s":"M","age":70,"v":0.25},{"p":"L","id":"m6","s":"M","age":90,"v":0.4},
{"p":"L","id":"m7","s":"M","age":30,"v":0.3},{"p":"L","id":"m7","s":"M","age":50,"v":0.35},{"p":"L","id":"m7","s":"M","age":70,"v":0.45},{"p":"L","id":"m7","s":"M","age":90,"v":0.28},
{"p":"L","id":"m8","s":"M","age":30,"v":0.55},{"p":"L","id":"m8","s":"M","age":50,"v":0.4},{"p":"L","id":"m8","s":"M","age":70,"v":0.6},{"p":"L","id":"m8","s":"M","age":90,"v":0.35}
],
"zero":[{"v":0}]
},
"spacing":32,
"resolve":{"scale":{"color":"independent","strokeDash":"independent"},"legend":{"color":"independent","strokeDash":"independent"}},
"hconcat":[
{"title":{"text":"Cross-sectional study","fontSize":17,"anchor":"middle","frame":"bounds","offset":7,"dx":6},
 "columns":2,"spacing":{"column":80,"row":61},"bounds":"flush",
 "resolve":{"scale":{"color":"independent"},"legend":{"color":"independent"}},
 "concat":[
 {"width":113,"height":112,"title":{"text":"A","dx":-64,"dy":24},
  "layer":[
   {"data":{"name":"cs"},"transform":[{"filter":"datum.p=='A'"}],"mark":{"type":"circle","size":45,"stroke":"#111","strokeWidth":0.7,"opacity":1},
    "encoding":{"x":{"field":"age","type":"quantitative","scale":{"domain":[20,110],"nice":false},"axis":{"values":[30,50,70,90,110],"tickCount":10,"format":"d","title":"Age (postnatal day)"}},
     "y":{"field":"v","type":"quantitative","scale":{"domain":[0,4],"nice":false},"axis":{"values":[0,1,2,3,4],"tickCount":10,"format":"d","title":"Number of reversals"}},
     "color":{"field":"s","type":"nominal","scale":{"domain":["F","M"],"range":["#000000","#808080"]},"legend":{"orient":"none","legendX":4,"legendY":-5,"title":null,"symbolType":"circle","symbolSize":36,"symbolStrokeColor":"#111","symbolStrokeWidth":0.7,"labelFontSize":8.5,"labelFontWeight":"bold","labelExpr":"datum.label=='F'?'Female':'Male'","rowPadding":-4,"padding":0,"labelOffset":2}}}},
   {"data":{"name":"fit"},"transform":[{"filter":"datum.p=='A'"}],"mark":{"type":"line","color":"#000","strokeWidth":1.5},"encoding":{"x":{"field":"age","type":"quantitative"},"y":{"field":"v","type":"quantitative"}}}
  ]},
 {"width":110,"height":112,"title":{"text":"B","dx":-66,"dy":27},
  "layer":[
   {"data":{"name":"cs"},"transform":[{"filter":"datum.p=='B'"}],"mark":{"type":"circle","size":45,"stroke":"#111","strokeWidth":0.7,"opacity":1},
    "encoding":{"x":{"field":"age","type":"quantitative","scale":{"domain":[18,120],"nice":false},"axis":{"values":[30,50,70,90,110],"tickCount":10,"format":"d","title":"Age (postnatal day)"}},
     "y":{"field":"v","type":"quantitative","scale":{"domain":[0,600],"nice":false},"axis":{"values":[0,200,400,600],"tickCount":10,"format":"d","title":["Number of trials required to","reach the reward criterion"],"titleFontSize":7.2,"titleAlign":"left","titleY":86,"titleLineHeight":8.5}},
     "color":{"field":"s","type":"nominal","scale":{"domain":["F","M"],"range":["#000000","#808080"]},"legend":null}}}
  ]},
 {"width":113,"height":111,"title":{"text":"C","dx":-64,"dy":9},
  "layer":[
   {"data":{"name":"cs"},"transform":[{"filter":"datum.p=='C'"}],"mark":{"type":"circle","size":45,"stroke":"#111","strokeWidth":0.7,"opacity":1},
    "encoding":{"x":{"field":"age","type":"quantitative","scale":{"domain":[20,110],"nice":false},"axis":{"values":[30,50,70,90,110],"tickCount":10,"format":"d","title":"Age (postnatal day)"}},
     "y":{"field":"v","type":"quantitative","scale":{"domain":[0,300],"nice":false},"axis":{"values":[0,100,200,300],"tickCount":10,"format":"d","title":"Trials to reach the first reversal","titleFontSize":8.5}},
     "color":{"field":"s","type":"nominal","scale":{"domain":["F","M"],"range":["#000000","#808080"]},"legend":null}}}
  ]},
 {"width":110,"height":111,"title":{"text":"D","dx":-66,"dy":14},
  "layer":[
   {"data":{"name":"cs"},"transform":[{"filter":"datum.p=='D'"}],"mark":{"type":"circle","size":45,"stroke":"#111","strokeWidth":0.7,"opacity":1},
    "encoding":{"x":{"field":"age","type":"quantitative","scale":{"domain":[18,120],"nice":false},"axis":{"values":[30,50,70,90,110],"tickCount":10,"format":"d","title":"Age (postnatal day)"}},
     "y":{"field":"v","type":"quantitative","scale":{"domain":[0,400],"nice":false},"axis":{"values":[0,100,200,300,400],"tickCount":10,"format":"d","title":"Trials to reach the second reversal","titleFontSize":8.5}},
     "color":{"field":"s","type":"nominal","scale":{"domain":["F","M"],"range":["#000000","#808080"]},"legend":null}}},
   {"data":{"name":"fit"},"transform":[{"filter":"datum.p=='D'"}],"mark":{"type":"line","color":"#000","strokeWidth":1.5},"encoding":{"x":{"field":"age","type":"quantitative"},"y":{"field":"v","type":"quantitative"}}}
  ]},
 {"width":113,"height":113,"title":{"text":"E","dx":-64,"dy":6.5},
  "layer":[
   {"data":{"name":"cs"},"transform":[{"filter":"datum.p=='E'"}],"mark":{"type":"circle","size":45,"stroke":"#111","strokeWidth":0.7,"opacity":1},
    "encoding":{"x":{"field":"age","type":"quantitative","scale":{"domain":[20,110],"nice":false},"axis":{"values":[30,50,70,90,110],"tickCount":10,"format":"d","title":"Age (postnatal day)"}},
     "y":{"field":"v","type":"quantitative","scale":{"domain":[0,1.5],"nice":false},"axis":{"values":[0,0.5,1,1.5],"tickCount":10,"format":".1f","title":"Sum reg coeff for reward"}},
     "color":{"field":"s","type":"nominal","scale":{"domain":["F","M"],"range":["#000000","#808080"]},"legend":null}}},
   {"data":{"name":"fit"},"transform":[{"filter":"datum.p=='E'"}],"mark":{"type":"line","color":"#000","strokeWidth":1.5},"encoding":{"x":{"field":"age","type":"quantitative"},"y":{"field":"v","type":"quantitative"}}}
  ]},
 {"width":110,"height":113,"title":{"text":"F","dx":-66,"dy":-5},
  "layer":[
   {"data":{"name":"zero"},"mark":{"type":"rule","color":"#999","strokeWidth":1},"encoding":{"y":{"field":"v","type":"quantitative"}}},
   {"data":{"name":"cs"},"transform":[{"filter":"datum.p=='F'"}],"mark":{"type":"circle","size":45,"stroke":"#111","strokeWidth":0.7,"opacity":1},
    "encoding":{"x":{"field":"age","type":"quantitative","scale":{"domain":[18,120],"nice":false},"axis":{"values":[30,50,70,90,110],"tickCount":10,"format":"d","title":"Age (postnatal day)"}},
     "y":{"field":"v","type":"quantitative","scale":{"domain":[-0.5,1.5],"nice":false},"axis":{"values":[-0.5,0,0.5,1,1.5],"tickCount":10,"format":".1f","title":"Sum reg coeff for no reward"}},
     "color":{"field":"s","type":"nominal","scale":{"domain":["F","M"],"range":["#000000","#808080"]},"legend":null}}}
  ]}
 ]},
{"title":{"text":"Longitudinal study","fontSize":17,"anchor":"middle","frame":"bounds","offset":7},
 "columns":2,"spacing":{"column":66,"row":61},"bounds":"flush",
 "resolve":{"scale":{"strokeDash":"independent"},"legend":{"strokeDash":"independent"}},
 "concat":[
 {"width":110,"height":112,"title":{"text":"G","dx":-53,"dy":24},
  "layer":[
   {"data":{"name":"lg"},"transform":[{"filter":"datum.p=='G'"}],"mark":{"type":"line","strokeWidth":0.8,"color":"#3c3c3c"},
    "encoding":{"x":{"field":"age","type":"quantitative","scale":{"domain":[20,100],"nice":false},"axis":{"values":[30,50,70,90],"tickCount":10,"format":"d","title":"Age (postnatal day)"}},
     "y":{"field":"v","type":"quantitative","scale":{"domain":[0,6],"nice":false},"axis":{"values":[0,2,4,6],"tickCount":10,"format":"d","title":"Number of reversals"}},
     "detail":{"field":"id"},
     "strokeDash":{"field":"s","type":"nominal","scale":{"domain":["F","M"],"range":[[3,2],[1,0]]},"legend":{"orient":"none","legendX":2,"legendY":-6,"title":null,"symbolType":"stroke","symbolStrokeColor":"#3c3c3c","symbolStrokeWidth":0.9,"symbolSize":150,"labelFontSize":8.5,"labelFontWeight":"bold","labelExpr":"datum.label=='F'?'Female':'Male'","rowPadding":-4,"padding":0,"labelOffset":2}}}},
   {"data":{"name":"lm"},"transform":[{"filter":"datum.p=='G'"}],"mark":{"type":"line","strokeWidth":3,"color":"#000","interpolate":"monotone"},"encoding":{"x":{"field":"age","type":"quantitative"},"y":{"field":"v","type":"quantitative"}}}
  ]},
 {"width":112,"height":112,"title":{"text":"H","dx":-67,"dy":21},
  "layer":[
   {"data":{"name":"lg"},"transform":[{"filter":"datum.p=='H'"}],"mark":{"type":"line","strokeWidth":0.8,"color":"#3c3c3c"},
    "encoding":{"x":{"field":"age","type":"quantitative","scale":{"domain":[20,100],"nice":false},"axis":{"values":[30,50,70,90],"tickCount":10,"format":"d","title":"Age (postnatal day)"}},
     "y":{"field":"v","type":"quantitative","scale":{"domain":[0,600],"nice":false},"axis":{"values":[0,200,400,600],"tickCount":10,"format":"d","title":["Number of trials required to","reach the reward criterion"],"titleFontSize":7.2,"titleAlign":"left","titleY":86,"titleLineHeight":8.5}},
     "detail":{"field":"id"},
     "strokeDash":{"field":"s","type":"nominal","scale":{"domain":["F","M"],"range":[[3,2],[1,0]]},"legend":null}}},
   {"data":{"name":"lm"},"transform":[{"filter":"datum.p=='H'"}],"mark":{"type":"line","strokeWidth":3,"color":"#000","interpolate":"monotone"},"encoding":{"x":{"field":"age","type":"quantitative"},"y":{"field":"v","type":"quantitative"}}}
  ]},
 {"width":110,"height":111,"title":{"text":"I","dx":-53,"dy":11},
  "layer":[
   {"data":{"name":"lg"},"transform":[{"filter":"datum.p=='I'"}],"mark":{"type":"line","strokeWidth":0.8,"color":"#3c3c3c"},
    "encoding":{"x":{"field":"age","type":"quantitative","scale":{"domain":[20,100],"nice":false},"axis":{"values":[30,50,70,90],"tickCount":10,"format":"d","title":"Age (postnatal day)"}},
     "y":{"field":"v","type":"quantitative","scale":{"domain":[0,300],"nice":false},"axis":{"values":[0,100,200,300],"tickCount":10,"format":"d","title":"Trials to reach the first reversal","titleFontSize":8.5}},
     "detail":{"field":"id"},
     "strokeDash":{"field":"s","type":"nominal","scale":{"domain":["F","M"],"range":[[3,2],[1,0]]},"legend":null}}},
   {"data":{"name":"lm"},"transform":[{"filter":"datum.p=='I'"}],"mark":{"type":"line","strokeWidth":3,"color":"#000","interpolate":"monotone"},"encoding":{"x":{"field":"age","type":"quantitative"},"y":{"field":"v","type":"quantitative"}}}
  ]},
 {"width":112,"height":111,"title":{"text":"J","dx":-67,"dy":15},
  "layer":[
   {"data":{"name":"lg"},"transform":[{"filter":"datum.p=='J'"}],"mark":{"type":"line","strokeWidth":0.8,"color":"#3c3c3c"},
    "encoding":{"x":{"field":"age","type":"quantitative","scale":{"domain":[20,100],"nice":false},"axis":{"values":[30,50,70,90],"tickCount":10,"format":"d","title":"Age (postnatal day)"}},
     "y":{"field":"v","type":"quantitative","scale":{"domain":[0,300],"nice":false},"axis":{"values":[0,100,200,300],"tickCount":10,"format":"d","title":"Trials to reach the second reversal","titleFontSize":8.5}},
     "detail":{"field":"id"},
     "strokeDash":{"field":"s","type":"nominal","scale":{"domain":["F","M"],"range":[[3,2],[1,0]]},"legend":null}}},
   {"data":{"name":"lm"},"transform":[{"filter":"datum.p=='J'"}],"mark":{"type":"line","strokeWidth":3,"color":"#000","interpolate":"monotone"},"encoding":{"x":{"field":"age","type":"quantitative"},"y":{"field":"v","type":"quantitative"}}}
  ]},
 {"width":110,"height":113,"title":{"text":"K","dx":-53,"dy":15},
  "layer":[
   {"data":{"name":"lg"},"transform":[{"filter":"datum.p=='K'"}],"mark":{"type":"line","strokeWidth":0.8,"color":"#3c3c3c"},
    "encoding":{"x":{"field":"age","type":"quantitative","scale":{"domain":[20,100],"nice":false},"axis":{"values":[30,50,70,90],"tickCount":10,"format":"d","title":"Age (postnatal day)"}},
     "y":{"field":"v","type":"quantitative","scale":{"domain":[0,1.5],"nice":false},"axis":{"values":[0,0.5,1,1.5],"tickCount":10,"format":".1f","title":"Sum reg coeff for reward"}},
     "detail":{"field":"id"},
     "strokeDash":{"field":"s","type":"nominal","scale":{"domain":["F","M"],"range":[[3,2],[1,0]]},"legend":null}}},
   {"data":{"name":"lm"},"transform":[{"filter":"datum.p=='K'"}],"mark":{"type":"line","strokeWidth":3,"color":"#000","interpolate":"monotone"},"encoding":{"x":{"field":"age","type":"quantitative"},"y":{"field":"v","type":"quantitative"}}}
  ]},
 {"width":112,"height":113,"title":{"text":"L","dx":-67,"dy":10.5},
  "layer":[
   {"data":{"name":"zero"},"mark":{"type":"rule","color":"#999","strokeWidth":1},"encoding":{"y":{"field":"v","type":"quantitative"}}},
   {"data":{"name":"lg"},"transform":[{"filter":"datum.p=='L'"}],"mark":{"type":"line","strokeWidth":0.8,"color":"#3c3c3c"},
    "encoding":{"x":{"field":"age","type":"quantitative","scale":{"domain":[20,100],"nice":false},"axis":{"values":[30,50,70,90],"tickCount":10,"format":"d","title":"Age (postnatal day)"}},
     "y":{"field":"v","type":"quantitative","scale":{"domain":[-0.1,1.5],"nice":false},"axis":{"values":[0,0.5,1,1.5],"tickCount":10,"format":".1f","title":"Sum reg coeff for no reward"}},
     "detail":{"field":"id"},
     "strokeDash":{"field":"s","type":"nominal","scale":{"domain":["F","M"],"range":[[3,2],[1,0]]},"legend":null}}},
   {"data":{"name":"lm"},"transform":[{"filter":"datum.p=='L'"}],"mark":{"type":"line","strokeWidth":3,"color":"#000","interpolate":"monotone"},"encoding":{"x":{"field":"age","type":"quantitative"},"y":{"field":"v","type":"quantitative"}}}
  ]}
 ]}
]
}
